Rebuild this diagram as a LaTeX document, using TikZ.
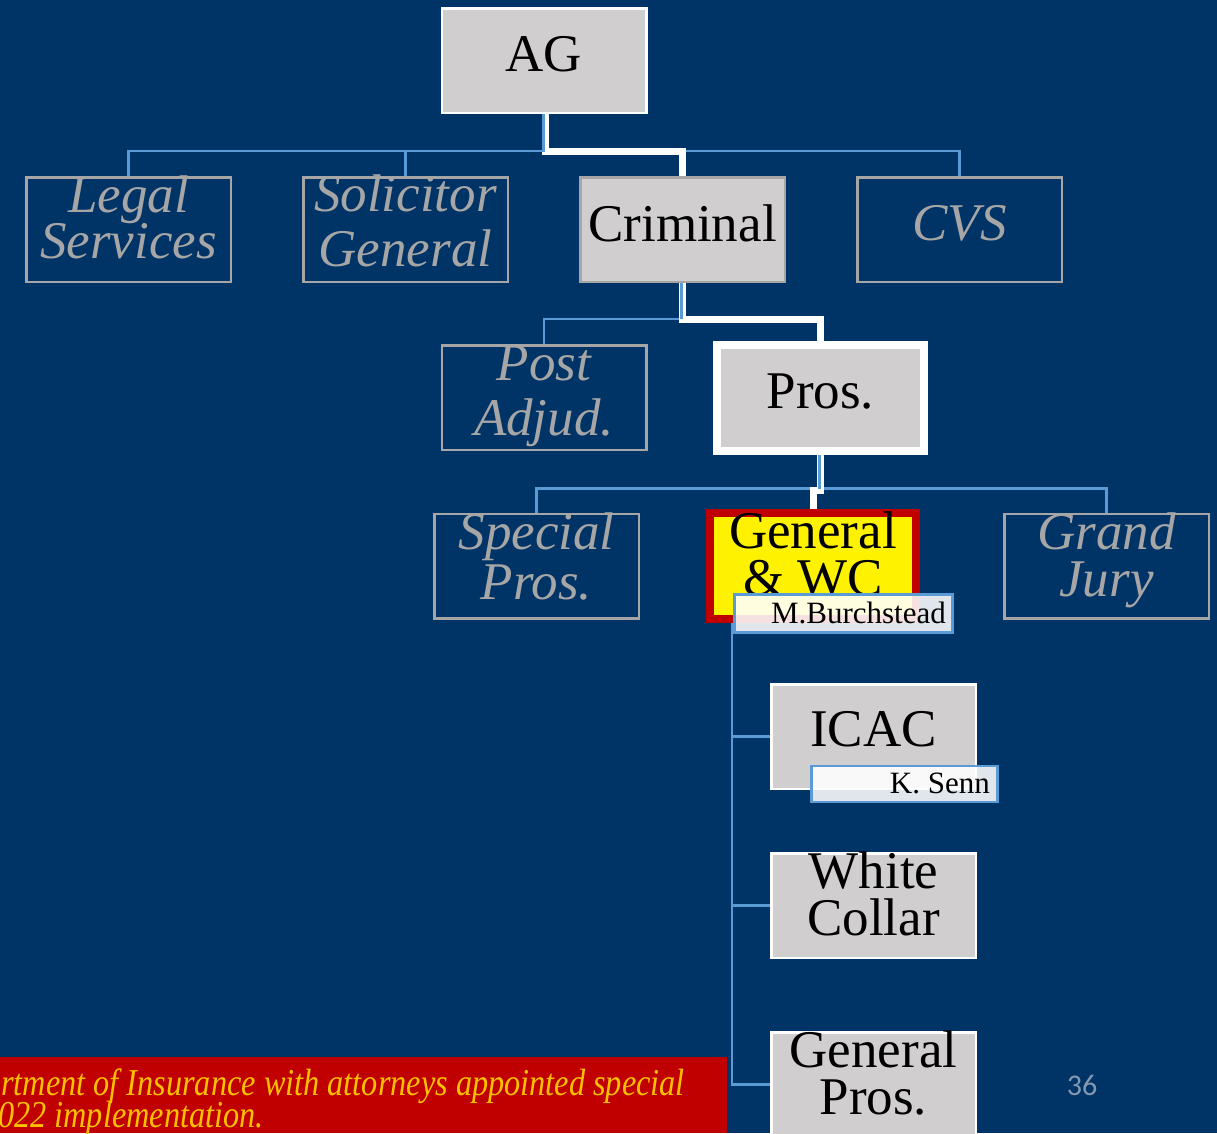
\documentclass[tikz,border=0pt]{standalone}
\usepackage{fontspec}
\setmainfont{Liberation Serif}
\newfontfamily\pagefont{Carlito}
\newfontfamily\notefont[FakeStretch=0.85]{Liberation Serif}
\usetikzlibrary{calc}

\definecolor{slidebg}{HTML}{003366}
\definecolor{boxgray}{HTML}{D0CECF}
\definecolor{dimgray}{HTML}{A6A6A6}
\definecolor{linkblue}{HTML}{5B9BD5}
\definecolor{alertred}{HTML}{C00000}
\definecolor{notegold}{HTML}{FFC000}
\definecolor{pagegray}{HTML}{8497B0}

\begin{document}
\begin{tikzpicture}[x=1pt,y=-1pt,
  unitbox/.style={rectangle, inner sep=0, minimum width=204.5, minimum height=104.5, line width=2.5},
  dimbox/.style={unitbox, draw=dimgray},
  greybox/.style={unitbox, draw=white, fill=boxgray},
  critbox/.style={unitbox, draw=dimgray, fill=boxgray},
  pathbox/.style={rectangle, inner sep=0, minimum width=207, minimum height=106, line width=8, draw=white, fill=boxgray},
  focusbox/.style={rectangle, inner sep=0, minimum width=206, minimum height=106, line width=8, draw=alertred, fill=yellow},
  dimtxt/.style={inner sep=0, align=center, text=dimgray, font=\fontsize{53}{47}\selectfont\itshape},
  darktxt/.style={inner sep=0, align=center, text=black, font=\fontsize{53}{47}\selectfont},
  bus/.style={draw=linkblue, line width=2.5},
  trail/.style={draw=white, line width=7},
  tagbox/.style={rectangle, inner sep=0, draw=linkblue, line width=2.5, fill=white, fill opacity=0.88},
  tagtxt/.style={inner sep=0, text=black, font=\fontsize{31}{31}\selectfont},
  notetxt/.style={inner sep=0, text=notegold, font=\notefont\itshape\fontsize{38}{32}\selectfont},
]
% slide background
\fill[slidebg] (0,0) rectangle (1217,1133);
\useasboundingbox (0,0) rectangle (1217,1133);
\clip (0,0) rectangle (1217,1133);

% boxes
\node[greybox]   (ag)        at (544,60.5)    {};
\node[dimbox]    (legal)     at (128.5,229.5) {};
\node[dimbox]    (solicitor) at (405.5,229.5) {};
\node[critbox]   (criminal)  at (682.5,229.5) {};
\node[dimbox]    (cvs)       at (959.5,229.5) {};
\node[dimbox]    (post)      at (544,397.5)   {};
\node[pathbox]   (pros)      at (820.5,398)   {};
\node[dimbox]    (special)   at (536.5,566)   {};
\node[focusbox]  (gen)       at (813,566)     {};
\node[dimbox]    (grand)     at (1106.5,566)  {};
\node[greybox]   (icac)      at (873.5,736.5) {};
\node[greybox]   (collar)    at (873.5,905.5) {};
\node[greybox]   (genpros)   at (873.5,1084.5){};

% AG to first tier
\draw[bus] (legal.north) -- ++(0,-25) -| (cvs.north);
\draw[bus] (solicitor.north) -- ++(0,-25);
\draw[trail] ([xshift=1pt]ag.south) -- ++(0,37) -| (criminal.north);
\draw[bus] ([xshift=-0.5pt]ag.south) |- ($(solicitor.north)+(0,-25)$);

% Criminal to second tier
\draw[bus] (post.north) -- ++(0,-25) -| (pros.north);
\draw[trail] (criminal.south) -- ++(0,36.5) -| (pros.north);
\draw[bus] ([xshift=-1pt]criminal.south) -- ++(0,36);

% Pros. to third tier
\draw[bus] (special.north) -- ++(0,-24) -| (grand.north);
\draw[trail] (pros.south) -- ++(0,35) -| (gen.north);
\draw[bus] ([xshift=-1pt]pros.south) -- ++(0,33.5);

% General & WC to its units
\coordinate (hang) at ($(gen.south west)+(26,0)$);
\draw[bus] (hang) |- (icac.west);
\draw[bus] (hang) |- (collar.west);
\draw[bus] (hang) |- (genpros.west);

% box texts
\node[darktxt, anchor=base]  (agTxt)     at ($(ag.center)+(0,10.5)$)       {AG};
\node[dimtxt,  anchor=north] (legalTxt)  at (legal.north)                  {Legal\\[-1pt]Services};
\node[dimtxt,  anchor=north] (solTxt)    at ($(solicitor.north)+(0,-1)$)   {Solicitor\\[8pt]General};
\node[darktxt, anchor=base]  (crimTxt)   at ($(criminal.center)+(0,12)$)   {Criminal};
\node[dimtxt,  anchor=base]  (cvsTxt)    at ($(cvs.center)+(0,11)$)        {CVS};
\node[dimtxt,  anchor=north] (postTxt)   at ($(post.north)+(0,2)$)         {Post\\[8pt]Adjud.};
\node[darktxt, anchor=base]  (prosTxt)   at ($(pros.center)+(0,10)$)       {Pros.};
\node[dimtxt,  anchor=north] (specTxt)   at (special.north)                {Special\\[3pt]Pros.};
\node[darktxt, anchor=north] (genTxt)    at ($(gen.north)+(0,3)$)          {General\\\& WC};
\node[dimtxt,  anchor=north] (grandTxt)  at (grand.north)                  {Grand\\Jury};
\node[darktxt, anchor=base]  (icacTxt)   at ($(icac.center)+(0,10)$)       {ICAC};
\node[darktxt, anchor=north] (collarTxt) at (collar.north)                 {White\\Collar};
\node[darktxt, anchor=north] (gpTxt)     at (genpros.north)                {General\\Pros.};

% name tags
\node[tagbox, minimum width=218, minimum height=38] (mbTag) at (843.5,613.5) {};
\node[tagtxt, anchor=base east] (mbName) at ($(mbTag.center)+(102.5,9.5)$) {M.Burchstead};
\node[tagbox, minimum width=186, minimum height=36] (ksTag) at (904.5,784) {};
\node[tagtxt, anchor=base east] (ksName) at ($(ksTag.center)+(85.5,9)$) {K. Senn};

% footnote banner
\node[fill=alertred, inner sep=0, minimum width=727, minimum height=76, anchor=north west] (note) at (0,1057) {};
\node[notetxt, anchor=base west] (noteA) at (1,1095) {rtment of Insurance with attorneys appointed special};
\node[notetxt, anchor=base west] (noteB) at (-2,1127) {022 implementation.};

% slide number
\node[inner sep=0, text=pagegray, font=\pagefont\fontsize{30}{30}\selectfont, anchor=base] (pageNo) at (1082,1095) {36};
\end{tikzpicture}
\end{document}
